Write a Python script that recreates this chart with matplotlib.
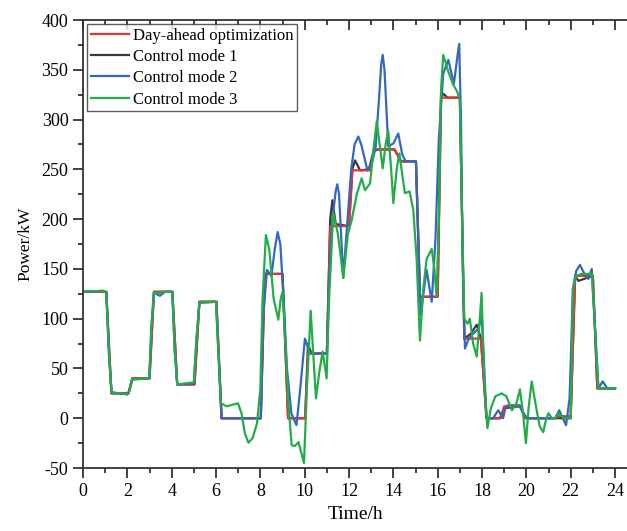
import matplotlib.pyplot as plt
import numpy as np

plt.rcParams['font.family'] = ['Liberation Serif', 'DejaVu Serif']
plt.rcParams['axes.unicode_minus'] = False

# day-ahead optimization (hourly plan)
t_red = [0, 1.05, 1.28, 2.05, 2.22, 3.0, 3.2, 4.03, 4.25, 5.03, 5.25, 6.02, 6.25, 8.02, 8.2,
         9.0, 9.25, 10.02, 10.15, 11.0, 11.15, 12.0, 12.15, 12.95, 13.15, 14.05, 14.35,
         15.02, 15.2, 16.0, 16.15, 17.0, 17.2, 17.95, 18.2, 18.85, 19.0, 19.75, 19.95,
         21.3, 21.35, 22.0, 22.2, 23.0, 23.2, 24.0]
p_red = [127, 127, 25, 25, 40, 40, 127, 127, 34, 34, 117, 117, 0, 0, 145,
         145, 0, 0, 65, 65, 193, 193, 249, 249, 270, 270, 258,
         258, 122, 122, 322, 322, 80, 80, 0, 0, 12, 12, 0,
         0, 2, 2, 143, 143, 30, 30]

# control mode 1
t_m1 = [0, 1.05, 1.28, 2.05, 2.22, 3.0, 3.2, 4.03, 4.25, 5.03, 5.25, 6.02, 6.25, 8.02, 8.2,
        9.0, 9.25, 10.02, 10.15, 10.3, 11.0, 11.15, 11.25, 11.4, 12.0, 12.15, 12.27, 12.5,
        12.9, 13.1, 13.3, 14.05, 14.35, 15.02, 15.2, 16.0, 16.15, 16.25, 16.45, 17.0, 17.2,
        17.5, 17.76, 17.95, 18.2, 18.8, 19.0, 19.7, 20.0, 22.0, 22.2, 22.35, 23.0, 23.2, 24.0]
p_m1 = [127, 127, 25, 25, 40, 40, 127, 127, 34, 34, 117, 117, 0, 0, 145,
        145, 0, 0, 75, 65, 65, 200, 219, 195, 193, 250, 259, 249,
        250, 268, 270, 270, 258, 258, 122, 122, 322, 326, 322, 322, 80,
        85, 94, 80, 0, 0, 10, 12, 0, 0, 143, 138, 143, 30, 30]

# control mode 2
t_m2 = [0, 0.9, 1.05, 1.18, 1.29, 2.0, 2.1, 2.22, 2.99, 3.08, 3.2, 3.47, 3.7, 4.03, 4.13,
        4.25, 5.0, 5.12, 5.25, 6.0, 6.12, 6.25, 8.02, 8.12, 8.3, 8.5, 8.65, 8.78, 8.9, 9.05,
        9.2, 9.4, 9.63, 9.8, 10.01, 10.24, 11.0, 11.12, 11.25, 11.4, 11.47, 11.55, 11.74,
        11.9, 12.1, 12.25, 12.42, 12.55, 12.83, 13.05, 13.2, 13.35, 13.45, 13.52, 13.6,
        13.77, 14.0, 14.22, 14.4, 14.55, 15.02, 15.1, 15.23, 15.5, 15.73, 15.9, 16.05,
        16.25, 16.48, 16.73, 16.9, 16.97, 17.05, 17.13, 17.23, 17.4, 17.6, 17.85, 17.98,
        18.1, 18.2, 18.5, 18.73, 18.95, 19.05, 19.15, 19.7, 19.85, 20.05, 21.3, 21.48,
        21.65, 21.79, 21.95, 22.1, 22.25, 22.42, 22.62, 22.8, 22.95, 23.1, 23.25, 23.44,
        23.65, 24.0]
p_m2 = [127, 128, 126, 60, 26, 24, 28, 39, 40, 90, 126, 123, 127, 127, 70,
        34, 35, 80, 116, 117, 60, 0, 0, 100, 149, 143, 170, 187, 175, 120,
        50, 5, -7, 30, 80, 65, 65, 150, 200, 228, 235, 225, 141,
        190, 250, 275, 283, 275, 249, 258, 272, 320, 355, 365, 350,
        273, 276, 286, 265, 258, 258, 200, 104, 149, 117, 180, 280,
        346, 360, 336, 365, 376, 300, 150, 70, 80, 85, 90, 105,
        50, 0, 0, 8, 0, 10, 13, 13, 5, 0, 0, 8,
        0, -7, 20, 130, 148, 154, 145, 140, 150, 90, 30, 37,
        30, 30]

# control mode 3
t_m3 = [0, 0.9, 1.05, 1.18, 1.29, 2.0, 2.1, 2.22, 2.99, 3.08, 3.2, 3.47, 3.7, 4.03, 4.13,
        4.25, 5.0, 5.12, 5.25, 6.0, 6.12, 6.22, 6.48, 6.99, 7.15, 7.3, 7.46, 7.65, 7.85,
        8.0, 8.1, 8.25, 8.4, 8.6, 8.81, 8.92, 9.0, 9.1, 9.25, 9.41, 9.55, 9.72, 9.85, 9.97,
        10.1, 10.27, 10.4, 10.51, 10.65, 10.81, 10.99, 11.1, 11.29, 11.5, 11.74, 11.95,
        12.12, 12.35, 12.57, 12.72, 12.95, 13.1, 13.25, 13.38, 13.52, 13.65, 13.77, 13.9,
        14.0, 14.15, 14.27, 14.4, 14.52, 14.73, 14.9, 15.05, 15.2, 15.35, 15.5, 15.73,
        15.85, 15.95, 16.05, 16.15, 16.25, 16.48, 16.7, 16.88, 17.0, 17.1, 17.2, 17.35,
        17.45, 17.6, 17.76, 17.9, 17.98, 18.1, 18.24, 18.4, 18.6, 18.88, 19.1, 19.35,
        19.55, 19.71, 19.85, 19.98, 20.1, 20.24, 20.45, 20.6, 20.76, 20.9, 21.0, 21.15,
        21.3, 21.48, 21.7, 22.0, 22.1, 22.25, 22.5, 22.95, 23.1, 23.25, 24.0]
p_m3 = [127, 128, 126, 60, 26, 24, 28, 39, 40, 90, 126, 126, 127, 127, 70,
        34, 36, 80, 116, 117, 60, 15, 12, 15, 5, -15, -24.6, -20, -5,
        30, 120, 184, 170, 120, 99, 120, 127, 90, 20, -27, -28, -24, -35, -45,
        30, 108, 60, 20, 45, 67, 40, 120, 206, 185, 141, 185,
        199, 225, 241, 229, 236, 270, 298, 275, 251, 275, 289, 250,
        216, 250, 266, 245, 226, 228, 209, 160, 78, 130, 160, 170,
        150, 122, 200, 330, 365, 348, 335, 328, 320, 200, 100, 95,
        100, 75, 62, 100, 126, 40, -10, 10, 22, 25, 22, 8,
        15, 29, 5, -25, 10, 37, 10, -8, -14, 0, 5, 0,
        0, 5, 0, 0, 130, 143, 145, 145, 90, 30, 30]

fig = plt.figure(figsize=(6.27, 5.31), dpi=100)
ax = fig.add_axes([0.1324, 0.1186, 0.8676, 0.8437])

# red drawn over black so the plan shows on the flat parts
ax.plot(t_red, p_red, color='#e8322f', lw=1.6, label='Day-ahead optimization', zorder=2.2)
ax.plot(t_m1, p_m1, color='#3a3a3a', lw=1.6, label='Control mode 1', zorder=2.1)
ax.plot(t_m2, p_m2, color='#3468c0', lw=1.6, label='Control mode 2', zorder=2.3)
ax.plot(t_m3, p_m3, color='#22ac4a', lw=1.6, label='Control mode 3', zorder=2.4)

ax.set_xlim(0, 24.54)
ax.set_ylim(-50, 400)
ax.set_xticks(np.arange(0, 25, 2))
ax.set_xticks(np.arange(1, 25, 2), minor=True)
ax.set_yticks(np.arange(-50, 401, 50))
ax.set_yticks(np.arange(-25, 400, 50), minor=True)

for s in ['left', 'bottom', 'top']:
    ax.spines[s].set_color('#333333')
    ax.spines[s].set_linewidth(1.3)
ax.spines['right'].set_visible(False)

ax.tick_params(axis='both', which='major', direction='out', length=7, width=1.3,
               color='#333333', labelsize=13)
ax.tick_params(axis='both', which='minor', direction='out', length=3.5, width=1.3,
               color='#333333')
ax.tick_params(axis='x', which='major', pad=4)

# top ticks point inward
sec = ax.secondary_xaxis('top')
sec.set_xticks(np.arange(0, 25, 2))
sec.set_xticks(np.arange(1, 25, 2), minor=True)
sec.tick_params(which='major', direction='in', length=7, width=1.3, color='#333333', labeltop=False)
sec.tick_params(which='minor', direction='in', length=3.5, width=1.3, color='#333333')
sec.spines['top'].set_visible(False)

ax.set_xlabel('Time/h', fontsize=14, labelpad=4)
ax.set_ylabel('Power/kW', fontsize=12.5, labelpad=6)

leg = ax.legend(loc='upper left', fontsize=12, frameon=True, fancybox=False,
                edgecolor='#333333', handlelength=2.3, handletextpad=0.25,
                labelspacing=0.32, borderpad=0.2, borderaxespad=0.25)
leg.get_frame().set_linewidth(1.0)

fig.savefig('out.png', dpi=100)
